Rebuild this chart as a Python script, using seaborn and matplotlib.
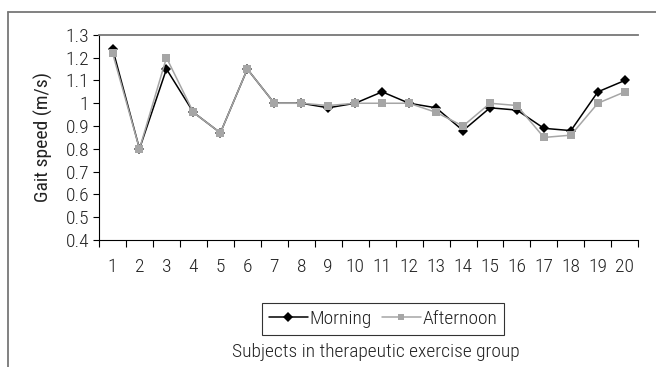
import pandas as pd
import seaborn as sns
import matplotlib.pyplot as plt
from matplotlib.lines import Line2D

# data
subjects = list(range(1, 21))
morning = [1.24, 0.80, 1.15, 0.96, 0.87, 1.15, 1.00, 1.00, 0.98, 1.00,
           1.05, 1.00, 0.98, 0.88, 0.98, 0.97, 0.89, 0.88, 1.05, 1.10]
afternoon = [1.22, 0.80, 1.20, 0.96, 0.87, 1.15, 1.00, 1.00, 0.99, 1.00,
             1.00, 1.00, 0.96, 0.90, 1.00, 0.99, 0.85, 0.86, 1.00, 1.05]
y_ticks = [0.4, 0.5, 0.6, 0.7, 0.8, 0.9, 1, 1.1, 1.2, 1.3]

df = pd.DataFrame({
    'Subject': subjects * 2,
    'Speed': morning + afternoon,
    'Session': ['Morning'] * 20 + ['Afternoon'] * 20,
})

sns.set_style("white")
plt.rcParams['font.family'] = ['Roboto Condensed', 'DejaVu Sans']
plt.rcParams['font.weight'] = 'light'
plt.rcParams['text.color'] = '#222222'
plt.rcParams['xtick.labelcolor'] = '#222222'
plt.rcParams['ytick.labelcolor'] = '#222222'
plt.rcParams['axes.labelcolor'] = '#222222'
fs = 14

fig = plt.figure(figsize=(6.56, 3.67), dpi=100)
ax = fig.add_axes([0.151, 0.346, 0.822, 0.559])

sns.lineplot(data=df, x='Subject', y='Speed', hue='Session', style='Session',
             palette={'Morning': 'black', 'Afternoon': '#a6a6a6'},
             markers={'Morning': 'D', 'Afternoon': 's'},
             dashes=False, markeredgewidth=0, linewidth=1.1,
             ax=ax, legend=False)
for ln in ax.lines:
    if ln.get_marker() == 'D':
        ln.set_markersize(5.5)
    else:
        ln.set_markersize(6)

ax.set_xlim(0.5, 20.5)
ax.set_ylim(0.4, 1.3)
ax.set_xticks(subjects)
ax.set_xticklabels([str(s) for s in subjects])
ax.set_xticks([s + 0.5 for s in range(0, 21)], minor=True)
ax.tick_params(axis='x', which='major', length=0, pad=13, labelsize=fs)
ax.tick_params(axis='x', which='minor', length=5, width=0.8, direction='out',
               bottom=True, color='black')
ax.set_yticks(y_ticks)
ax.set_yticklabels([f'{v:g}' for v in y_ticks])
ax.tick_params(axis='y', length=4, width=0.8, direction='out', left=True,
               color='black', labelsize=fs, pad=3)

for side in ['left', 'bottom']:
    ax.spines[side].set_color('black')
    ax.spines[side].set_linewidth(0.8)
ax.spines['right'].set_visible(False)
ax.spines['top'].set_color('#777777')
ax.spines['top'].set_linewidth(1.3)

ax.set_ylabel('Gait speed (m/s)', fontsize=fs, labelpad=9)
ax.set_xlabel('')
fig.text(0.573, 0.027, 'Subjects in therapeutic exercise group',
         ha='center', va='baseline', fontsize=fs)

handles = [
    Line2D([], [], color='black', marker='D', markersize=5, markeredgewidth=0, linewidth=1.1),
    Line2D([], [], color='#a6a6a6', marker='s', markersize=5, markeredgewidth=0, linewidth=1.1),
]
leg = fig.legend(handles, ['Morning', 'Afternoon'], loc='center',
                 bbox_to_anchor=(0.584, 0.131), ncol=2, frameon=True,
                 fancybox=False, edgecolor='black', fontsize=fs,
                 handlelength=2.0, handletextpad=0.1, columnspacing=0.5,
                 borderpad=0.35, borderaxespad=0)
leg.get_frame().set_linewidth(0.8)

# outer frame (cut off at right and bottom)
fig.add_artist(Line2D([8 / 656, 1.0], [1 - 12 / 367, 1 - 12 / 367],
                      color='#777777', linewidth=1.3, transform=fig.transFigure))
fig.add_artist(Line2D([8 / 656, 8 / 656], [0.0, 1 - 12 / 367],
                      color='#777777', linewidth=1.3, transform=fig.transFigure))

fig.savefig('out.png', dpi=100)
